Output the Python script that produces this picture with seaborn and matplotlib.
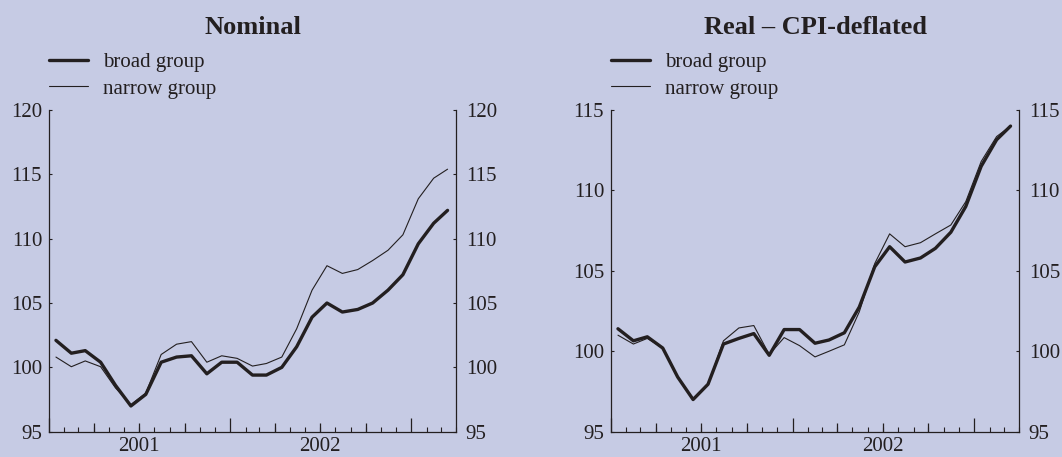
import numpy as np
import pandas as pd
import matplotlib
matplotlib.use("Agg")
import matplotlib.pyplot as plt
import matplotlib.dates as mdates
import seaborn as sns

# ---------------- data (monthly, Jan 2001 - Mar 2003) ----------------
months = pd.date_range("2001-01-01", periods=27, freq="MS") + pd.Timedelta(days=14)

nominal_broad = [102.1, 101.1, 101.3, 100.4, 98.6, 97.0, 97.9, 100.4, 100.8, 100.9,
                 99.5, 100.4, 100.4, 99.4, 99.4, 100.0, 101.6, 103.9, 105.0, 104.3,
                 104.5, 105.0, 106.0, 107.2, 109.6, 111.2, 112.2]
nominal_narrow = [100.8, 100.05, 100.5, 100.05, 98.4, 97.1, 98.0, 101.0, 101.8, 102.0,
                  100.4, 100.9, 100.7, 100.1, 100.3, 100.8, 103.0, 106.0, 107.9, 107.3,
                  107.6, 108.3, 109.1, 110.3, 113.1, 114.7, 115.4]

real_broad = [101.4, 100.65, 100.9, 100.2, 98.4, 97.0, 97.95, 100.45, 100.8, 101.1,
              99.75, 101.35, 101.35, 100.5, 100.7, 101.15, 102.75, 105.25, 106.5, 105.55,
              105.8, 106.4, 107.4, 109.0, 111.5, 113.15, 114.0]
real_narrow = [101.0, 100.45, 100.8, 100.2, 98.4, 97.05, 97.95, 100.65, 101.45, 101.6,
               99.8, 100.85, 100.35, 99.65, 100.0, 100.4, 102.45, 105.45, 107.3, 106.5,
               106.75, 107.3, 107.85, 109.3, 111.8, 113.35, 114.0]

series_labels = ["broad group", "narrow group"]
panel_titles = ["Nominal", "Real \u2013 CPI-deflated"]
panel_ylims = [(95, 120), (95, 115)]
year_labels = ["2001", "2002"]

# ---------------- style ----------------
BG = "#C6CBE4"
INK = "#231F20"

sns.set_theme(style="white")
plt.rcParams["font.family"] = ["Liberation Serif", "DejaVu Serif"]
plt.rcParams["text.color"] = INK
plt.rcParams["axes.labelcolor"] = INK
plt.rcParams["xtick.color"] = INK
plt.rcParams["ytick.color"] = INK

W, H = 1062, 457
fig = plt.figure(figsize=(W / 100, H / 100), dpi=100, facecolor=BG)

def px_axes(x0, x1, ytop, ybot):
    return fig.add_axes([x0 / W, (H - ybot) / H, (x1 - x0) / W, (ybot - ytop) / H])

axes = [px_axes(49, 456, 110, 431.7), px_axes(611, 1019, 110, 431.7)]

xnum = mdates.date2num(months.to_pydatetime())
month_starts = mdates.date2num(pd.date_range("2001-01-01", "2003-04-01", freq="MS").to_pydatetime())
year_starts = mdates.date2num(pd.to_datetime(["2001-01-01", "2002-01-01", "2003-01-01"]).to_pydatetime())
quarter_starts = mdates.date2num(pd.to_datetime(["2001-04-01", "2001-07-01", "2001-10-01",
                                                 "2002-04-01", "2002-07-01", "2002-10-01"]).to_pydatetime())
mid_years = mdates.date2num(pd.to_datetime(["2001-07-01", "2002-07-01"]).to_pydatetime())

data = [(nominal_broad, nominal_narrow), (real_broad, real_narrow)]

for ax, (broad, narrow), title, ylim in zip(axes, data, panel_titles, panel_ylims):
    ax.set_facecolor(BG)
    sns.lineplot(x=xnum, y=broad, ax=ax, color=INK, linewidth=2.4, label=series_labels[0])
    sns.lineplot(x=xnum, y=narrow, ax=ax, color=INK, linewidth=0.8, label=series_labels[1])

    ax.set_xlim(month_starts[0], month_starts[-1])
    ax.set_ylim(*ylim)
    ax.set_yticks(np.arange(ylim[0], ylim[1] + 1, 5))

    for s in ["left", "right", "bottom"]:
        ax.spines[s].set_visible(True)
        ax.spines[s].set_color(INK)
        ax.spines[s].set_linewidth(0.9)
    ax.spines["top"].set_visible(False)

    # y ticks: inward, labels both sides
    ax.tick_params(axis="y", which="both", direction="in", length=2, width=0.8,
                   left=True, right=False, labelsize=15, pad=5)
    sec_y = ax.secondary_yaxis("right")
    sec_y.set_yticks(np.arange(ylim[0], ylim[1] + 1, 5))
    sec_y.tick_params(axis="y", direction="in", length=2, width=0.8, labelsize=15, pad=7, colors=INK)
    sec_y.spines["right"].set_visible(False)

    # x ticks: monthly short, quarterly medium, yearly tall
    ax.set_xticks(year_starts)
    ax.set_xticklabels([])
    ax.set_xticks(month_starts, minor=True)
    ax.tick_params(axis="x", which="major", direction="in", length=10, width=0.9, bottom=True)
    ax.tick_params(axis="x", which="minor", direction="in", length=3.6, width=0.8, bottom=True)

    sec_q = ax.secondary_xaxis("bottom")
    sec_q.set_xticks(quarter_starts)
    sec_q.set_xticklabels([])
    sec_q.tick_params(axis="x", direction="in", length=6.5, width=0.9, colors=INK)
    sec_q.spines["bottom"].set_visible(False)

    sec_l = ax.secondary_xaxis("bottom")
    sec_l.set_xticks(mid_years)
    sec_l.set_xticklabels(year_labels)
    sec_l.tick_params(axis="x", length=0, labelsize=15, pad=3.5, colors=INK)
    sec_l.spines["bottom"].set_visible(False)

    ax.set_xlabel("")
    ax.set_ylabel("")

    leg = ax.legend(loc="upper left", bbox_to_anchor=(0.0, 1.178), frameon=False, fontsize=15,
                    handlelength=1.85, handletextpad=0.75, labelspacing=0.32,
                    borderpad=0, borderaxespad=0)
    for t in leg.get_texts():
        t.set_color(INK)

    ax.text(0.5, 1.236, title, transform=ax.transAxes, ha="center", va="baseline",
            fontsize=19, fontweight="bold", color=INK)

fig.savefig("out.png", dpi=100, facecolor=BG)
